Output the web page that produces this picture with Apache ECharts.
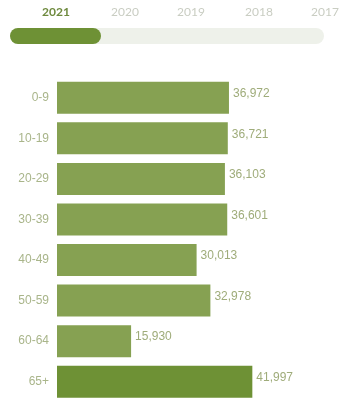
<!DOCTYPE html>
<html>
<head>
<meta charset="utf-8">
<script src="https://cdn.jsdelivr.net/npm/echarts@6/dist/echarts.min.js"></script>
<style>html,body{margin:0;padding:0;background:#fff;}#c{width:341px;height:402px;}</style>
</head>
<body>
<div id="c"></div>
<script>
const categories = ['0-9', '10-19', '20-29', '30-39', '40-49', '50-59', '60-64', '65+'];
const values = [36972, 36721, 36103, 36601, 30013, 32978, 15930, 41997];
const years = ['2021', '2020', '2019', '2018', '2017'];
const activeYear = '2021';

const chart = echarts.init(document.getElementById('c'));
const yearX = [56, 125, 191, 259, 325];
const graphic = years.map((y, i) => ({
  type: 'text',
  x: yearX[i],
  y: 12,
  z: 3,
  style: {
    text: y,
    align: 'center',
    textAlign: 'center',
    verticalAlign: 'middle',
    textVerticalAlign: 'middle',
    fill: y === activeYear ? '#6e8a3e' : '#c9cdc2',
    font: (y === activeYear ? 'bold ' : '') + '12px Lato, "Liberation Sans", sans-serif'
  }
}));
graphic.push({
  type: 'rect', x: 10, y: 28, z: 1,
  shape: { width: 314, height: 16, r: 8 },
  style: { fill: '#eef1ea' }
});
graphic.push({
  type: 'rect', x: 10, y: 28, z: 2,
  shape: { width: 91, height: 16, r: 8 },
  style: { fill: '#6e9135' }
});

chart.setOption({
  animation: false,
  graphic: graphic,
  grid: { left: 57, top: 77.5, width: 200, height: 329 },
  xAxis: {
    type: 'value', min: 0, max: 43000, show: false
  },
  yAxis: {
    type: 'category', data: categories, inverse: true,
    axisLine: { show: false }, axisTick: { show: false }, splitLine: { show: false },
    axisLabel: { color: '#a9b58a', fontSize: 12, margin: 8, fontFamily: '"Liberation Sans", Arial, sans-serif' }
  },
  series: [{
    type: 'bar',
    barWidth: 32,
    data: values.map((v, i) => ({
      value: v,
      itemStyle: { color: i === values.length - 1 ? '#6e9135' : '#86a152' }
    })),
    label: {
      show: true, position: 'right', distance: 4, offset: [0, -4],
      color: '#9fac7a', fontSize: 12, fontFamily: '"Liberation Sans", Arial, sans-serif',
      formatter: p => p.value.toLocaleString('en-US')
    }
  }]
});
</script>
</body>
</html>
